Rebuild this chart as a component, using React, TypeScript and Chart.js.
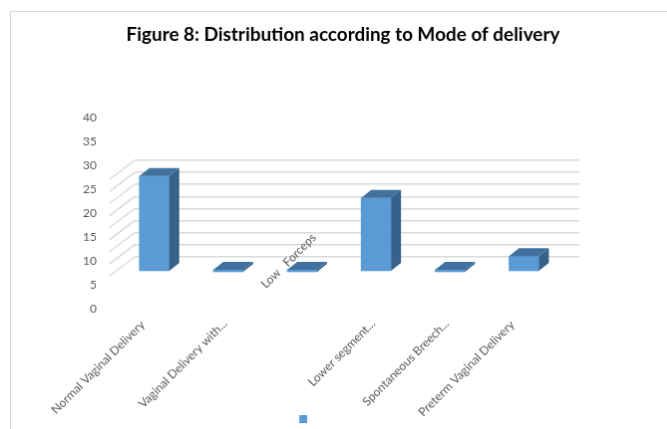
import React, { useEffect, useRef } from 'react';
import { Chart, registerables } from 'chart.js';

Chart.register(...registerables);

// ---- data ----
const titleText = 'Figure 8: Distribution according to Mode of delivery';
const categories = [
  'Normal Vaginal Delivery',
  'Vaginal Delivery with...',
  'Low   Forceps',
  'Lower segment...',
  'Spontaneous Breech...',
  'Preterm Vaginal Delivery',
];
const values = [26, 0, 0, 20, 0, 4];
// the original places some category labels differently
const raisedLabels = [2]; // drawn up inside the plot
const longLabels = [0, 5]; // untruncated labels, anchored further left
const yTickMin = 0;
const yTickMax = 40;
const yTickStep = 5;
const wallGridValues = [5, 10, 15, 20, 25, 30, 35, 40, 45];
const seriesName = ' '.repeat(37);

// ---- style ----
const FONT = 'Lato, "Open Sans", "DejaVu Sans", sans-serif';
const TICK_COLOR = '#595959';
const GRID_COLOR = '#d9d9d9';
const FRONT = '#5b9bd5';
const TOP = '#41729f';
const SIDE = '#36618b';
const BAR_DX = 10;
const BAR_DY = 8;
const WALL_DX = 25;
const WALL_DY = 19;

const depthPlugin = {
  id: 'depth3d',
  beforeDatasetsDraw(chart: any) {
    const ctx = chart.ctx;
    const yg = chart.scales.yg;
    const left = chart.chartArea.left;
    ctx.save();
    ctx.strokeStyle = GRID_COLOR;
    ctx.lineWidth = 1.5;
    wallGridValues.forEach((v) => {
      const py = yg.getPixelForValue(v);
      ctx.beginPath();
      ctx.moveTo(left, py);
      ctx.lineTo(left - WALL_DX, py + WALL_DY);
      ctx.stroke();
    });
    ctx.restore();
  },
  afterDatasetsDraw(chart: any) {
    const ctx = chart.ctx;
    const meta = chart.getDatasetMeta(0);
    ctx.save();
    meta.data.forEach((bar: any) => {
      const { x, y, base, width } = bar.getProps(['x', 'y', 'base', 'width'], true);
      const top = Math.min(y, base);
      const bottom = Math.max(y, base);
      const l = x - width / 2;
      const r = x + width / 2;
      ctx.fillStyle = TOP;
      ctx.beginPath();
      ctx.moveTo(l, top);
      ctx.lineTo(r, top);
      ctx.lineTo(r + BAR_DX, top - BAR_DY);
      ctx.lineTo(l + BAR_DX, top - BAR_DY);
      ctx.closePath();
      ctx.fill();
      ctx.fillStyle = SIDE;
      ctx.beginPath();
      ctx.moveTo(r, top);
      ctx.lineTo(r + BAR_DX, top - BAR_DY);
      ctx.lineTo(r + BAR_DX, bottom - BAR_DY);
      ctx.lineTo(r, bottom);
      ctx.closePath();
      ctx.fill();
    });
    ctx.restore();
  },
};

export default function App() {
  const ref = useRef<HTMLCanvasElement | null>(null);

  useEffect(() => {
    if (!ref.current) return;
    const xMin = -0.266;
    const xMax = 5.749;
    const tickFont = { family: FONT, size: 12 };
    const labelAxis = (
      position: any,
      pick: (i: number) => boolean,
      padding: number,
      labelOffset: number,
      extra: any = {}
    ) => ({
      type: 'linear',
      axis: 'x',
      offset: false,
      position,
      min: xMin,
      max: xMax,
      grid: { display: false, offset: false },
      border: { display: false },
      ticks: {
        stepSize: 1,
        includeBounds: false,
        autoSkip: false,
        minRotation: 45,
        maxRotation: 45,
        padding,
        labelOffset,
        color: TICK_COLOR,
        font: tickFont,
        callback: (v: any) => (Number.isInteger(v) && pick(v) ? categories[v] ?? '' : ''),
      },
      ...extra,
    });

    const chart = new Chart(ref.current, {
      type: 'bar',
      data: {
        datasets: [
          {
            label: seriesName,
            data: values.map((v, i) => ({ x: i, y: v })),
            xAxisID: 'x',
            yAxisID: 'yb',
            backgroundColor: FRONT,
            borderWidth: 0,
            barThickness: 30,
            minBarLength: 2,
          } as any,
        ],
      },
      options: {
        responsive: false,
        animation: false,
        layout: { padding: { left: 60, right: 64, top: 0, bottom: 7 } },
        plugins: {
          title: {
            display: true,
            text: titleText,
            color: '#000000',
            font: { family: FONT, size: 18.9, weight: 'bold' },
            padding: { top: 12, bottom: 69.3 },
          },
          legend: {
            position: 'bottom',
            labels: {
              boxWidth: 8,
              boxHeight: 8,
              padding: 0,
              color: TICK_COLOR,
              font: { family: FONT, size: 8 },
            },
          },
          tooltip: { enabled: false },
        },
        scales: {
          x: labelAxis(
            'bottom',
            (i) => !raisedLabels.includes(i) && !longLabels.includes(i),
            2,
            -3,
            { afterFit: (s: any) => { s.height = 109; } }
          ),
          xLong: labelAxis({ y: yTickMin }, (i) => longLabels.includes(i), 3, -11.5),
          xRaised: labelAxis({ y: 17.6 }, (i) => raisedLabels.includes(i), 0, 12),
          y: {
            position: 'left',
            min: yTickMin,
            max: yTickMax,
            grid: { display: false, drawTicks: false },
            border: { display: false },
            ticks: {
              stepSize: yTickStep,
              padding: 38,
              labelOffset: 2.5,
              color: TICK_COLOR,
              font: tickFont,
            },
            afterFit: (s: any) => {
              s.width = 64;
            },
          } as any,
          yg: {
            position: 'right',
            min: -15.63,
            max: 63.56,
            border: { display: false },
            grid: {
              drawTicks: false,
              lineWidth: 1.5,
              color: (c: any) =>
                c.tick && wallGridValues.includes(c.tick.value) ? GRID_COLOR : 'rgba(0,0,0,0)',
            },
            ticks: { display: false, stepSize: 5 },
            afterFit: (s: any) => {
              s.width = 36;
            },
          } as any,
          yb: {
            display: false,
            min: -9.84,
            max: 42.62,
          } as any,
        },
      } as any,
      plugins: [depthPlugin],
    });
    return () => chart.destroy();
  }, []);

  return (
    <div
      style={{
        position: 'fixed',
        left: 0,
        top: 0,
        width: 667,
        height: 429,
        overflow: 'hidden',
        background: '#ffffff',
      }}
    >
      <canvas
        ref={ref}
        width={670}
        height={430}
        style={{
          position: 'absolute',
          left: 10,
          top: 11,
          width: 670,
          height: 430,
          border: '1px solid #d9d9d9',
        }}
      />
    </div>
  );
}
